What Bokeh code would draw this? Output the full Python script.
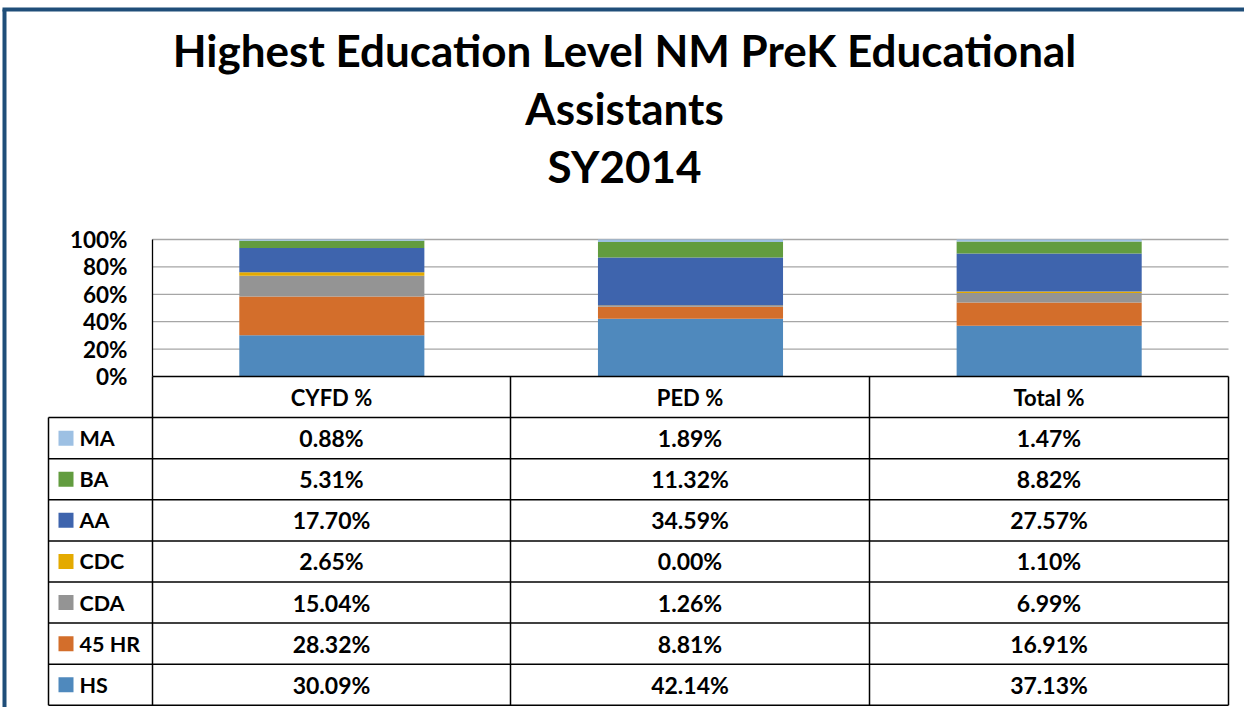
from bokeh.plotting import figure
from bokeh.models import Range1d, ColumnDataSource
from bokeh.core.properties import value
from bokeh.embed import file_html
from bokeh.resources import INLINE

# ---------------- data ----------------
title_lines = ["Highest Education Level NM PreK Educational", "Assistants", "SY2014"]
groups = ["CYFD %", "PED %", "Total %"]
# stacked bottom -> top
series = ["HS", "45 HR", "CDA", "CDC", "AA", "BA", "MA"]
HS = [30.09, 42.14, 37.13]
HR45 = [28.32, 8.81, 16.91]
CDA = [15.04, 1.26, 6.99]
CDC = [2.65, 0.00, 1.10]
AA = [17.70, 34.59, 27.57]
BA = [5.31, 11.32, 8.82]
MA = [0.88, 1.89, 1.47]
series_values = [HS, HR45, CDA, CDC, AA, BA, MA]
colors = ["#4F89BD", "#D36E2B", "#949494", "#E4AA00", "#3E64AD", "#629C3F", "#9DC0E3"]
y_ticks = [0.0, 0.2, 0.4, 0.6, 0.8, 1.0]
y_tick_labels = ["0%", "20%", "40%", "60%", "80%", "100%"]

# ---------------- layout constants (picture pixels) ----------------
W, H = 1244, 707
PLOT_L, PLOT_R = 152, 1228           # bar area
PLOT_T, PLOT_B = 239, 376            # 100% / 0%
TAB_L = 48
ROW_H = 41.1
COL_X = [152, 510, 869, 1228]
FONT = value("Lato")

p = figure(width=W, height=H, output_backend="svg", toolbar_location=None,
           x_range=Range1d(0, W), y_range=Range1d(H, 0),
           min_border=0, outline_line_color=None)
p.axis.visible = False
p.grid.visible = False
p.background_fill_color = "white"
p.border_fill_color = "white"

# data ranges mapped onto bar area
ncat = len(groups)
U = (PLOT_R - PLOT_L) / ncat
p.extra_x_ranges["cat"] = Range1d((0 - PLOT_L) / U, (W - PLOT_L) / U)
V = (PLOT_B - PLOT_T)
p.extra_y_ranges["pct"] = Range1d((PLOT_B - H) / V, (PLOT_B - 0) / V)

# frame border (dark blue)
p.segment(x0=[4], y0=[9], x1=[4], y1=[H], line_color="#1F4E79", line_width=4)
p.segment(x0=[2], y0=[9], x1=[W], y1=[9], line_color="#1F4E79", line_width=4)

# title
title_y = [49, 107, 165]
p.text(x=[624] * 3, y=title_y, text=title_lines, text_font=FONT, text_font_style="bold",
       text_font_size="44px", text_align="center", text_baseline="alphabetic", text_color="black")

# gridlines
gt = y_ticks[1:]
p.segment(x0=[0] * len(gt), y0=gt, x1=[ncat] * len(gt), y1=gt, line_color="#A6A6A6",
          line_width=1.3, x_range_name="cat", y_range_name="pct")

# bars
src = {"x": [i + 0.5 for i in range(ncat)]}
for name, vals in zip(series, series_values):
    src[name] = [v / 100 for v in vals]
source = ColumnDataSource(src)
p.vbar_stack(series, x="x", width=0.516, color=colors, source=source,
             line_color=None, x_range_name="cat", y_range_name="pct")

# y axis line
p.segment(x0=[0], y0=[0], x1=[0], y1=[1], line_color="black", line_width=1.3,
          x_range_name="cat", y_range_name="pct")

# y tick labels
p.text(x=[127] * len(y_ticks), y=y_ticks, text=y_tick_labels, y_range_name="pct",
       text_font=FONT, text_font_style="bold", text_font_size="22.5px",
       text_align="right", text_baseline="middle", text_color="black")

# ---------------- data table ----------------
nrows = len(series)
tab_top = PLOT_B
tab_bot = tab_top + ROW_H * (nrows + 1)
hx0, hy0, hx1, hy1 = [], [], [], []
for k in range(nrows + 2):
    y = tab_top + ROW_H * k
    hx0.append(COL_X[0] if k == 0 else TAB_L)
    hx1.append(COL_X[-1])
    hy0.append(y)
    hy1.append(y)
for cx in COL_X:
    hx0.append(cx); hx1.append(cx); hy0.append(tab_top); hy1.append(tab_bot)
hx0.append(TAB_L); hx1.append(TAB_L); hy0.append(tab_top + ROW_H); hy1.append(tab_bot)
p.segment(x0=hx0, y0=hy0, x1=hx1, y1=hy1, line_color="black", line_width=1.5)

col_centers = [(COL_X[j] + COL_X[j + 1]) / 2 for j in range(ncat)]
p.text(x=col_centers, y=[tab_top + ROW_H / 2] * ncat, text=groups, text_font=FONT,
       text_font_style="bold", text_font_size="22px", text_align="center",
       text_baseline="middle", text_color="black")

# rows top -> bottom: reversed stack order
row_series = list(reversed(series))
row_vals = list(reversed(series_values))
row_cols = list(reversed(colors))
cx, cy, ct = [], [], []
lx, ly, lt, sq_c = [], [], [], []
for i, (name, vals, c) in enumerate(zip(row_series, row_vals, row_cols)):
    yc = tab_top + ROW_H * (i + 1.5)
    for j in range(ncat):
        cx.append(col_centers[j]); cy.append(yc); ct.append(f"{vals[j]:.2f}%")
    lx.append(79); ly.append(yc); lt.append(name); sq_c.append(c)
p.text(x=cx, y=cy, text=ct, text_font=FONT, text_font_style="bold", text_font_size="23px",
       text_align="center", text_baseline="middle", text_color="black")
p.rect(x=[65.5] * nrows, y=ly, width=15, height=15, fill_color=sq_c, line_color=None)
p.text(x=lx, y=ly, text=lt, text_font=FONT, text_font_style="bold", text_font_size="21.5px",
       text_align="left", text_baseline="middle", text_color="black")

open("out.html", "w").write(file_html(p, INLINE))
